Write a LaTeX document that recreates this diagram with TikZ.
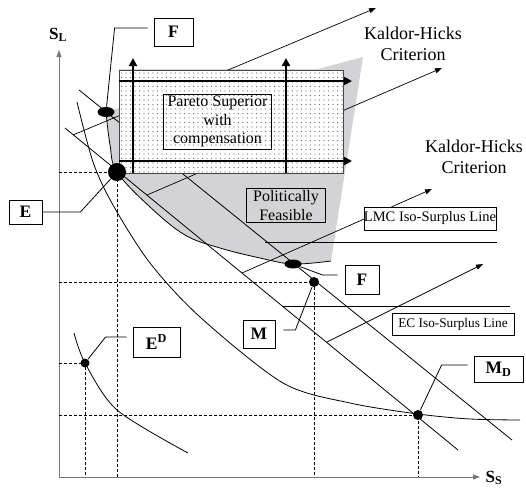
\documentclass[tikz,border=0pt]{standalone}
\usepackage{fontspec}
\setmainfont{Liberation Serif}
\usepackage{tikz}
\usetikzlibrary{positioning, shapes.geometric, arrows.meta, patterns.meta, calc}
\definecolor{feasiblegray}{RGB}{211,211,213}
\definecolor{axisgray}{RGB}{120,120,120}
\definecolor{dotgray}{RGB}{110,110,110}
\definecolor{framegray}{RGB}{70,70,70}

\begin{document}
\begin{tikzpicture}[
    x=1pt, y=-1pt,
    line width=0.8pt,
    font=\fontsize{16}{19}\selectfont,
    guide/.style={dash pattern=on 3pt off 2pt},
    axisarrow/.style={-{Triangle[length=7pt, width=5pt]}, line width=1pt, color=axisgray},
    krarrow/.style={-{Triangle[length=7pt, width=5pt]}, line width=0.7pt},
    boldarrow/.style={-{Triangle[length=8pt, width=8pt]}, line width=2.8pt},
    paretobox/.style={draw=framegray, preaction={fill=white},
        pattern={Dots[distance=4.5pt, radius=0.6pt]}, pattern color=dotgray},
    regionbox/.style={draw, align=center, inner xsep=4pt, inner ysep=2pt, font=\fontsize{16}{18.5}\selectfont},
    notebox/.style={draw, fill=white, inner sep=0pt},
    tagbox/.style={draw, fill=white, inner sep=0pt, font=\fontsize{17.5}{20}\selectfont\bfseries},
    axislabel/.style={font=\fontsize{17}{20}\selectfont\bfseries, inner sep=1pt},
    khlabel/.style={align=center, font=\fontsize{18}{21}\selectfont},
    bigdot/.style={circle, fill=black, inner sep=0pt, minimum size=#1},
    flatdot/.style={ellipse, fill=black, inner sep=0pt, minimum width=17pt, minimum height=#1}
]
\useasboundingbox (0,0) rectangle (526,487);

%% KEY POINTS %%
\coordinate (origin) at (59,477);
\coordinate (e_pt) at (117,172);
\coordinate (f_top_pt) at (106,112);
\coordinate (f_bot_pt) at (293,264);
\coordinate (m_pt) at (314,282);
\coordinate (md_pt) at (418,415);
\coordinate (ed_pt) at (85,363);

%% POLITICALLY FEASIBLE AREA %%
\fill[feasiblegray] plot[smooth, tension=0.6] coordinates {(106,112) (110,145) (117,172) (150,207) (185,235) (220,248) (260,258) (293,264) (331,261)}
    -- (363,57) -- (318,69) -- (119,69) -- (119,108) -- cycle;

%% AXES %%
\draw[axisarrow] (origin) -- (59,50) coordinate (sl_end);
\draw[axisarrow] (origin) -- (480,477) coordinate (ss_end);
\node (sl_label) [axislabel] at (58,35) {S\textsubscript{L}};
\node (ss_label) [axislabel] at (494,478) {S\textsubscript{S}};

%% DASHED GUIDES %%
\draw[guide] (origin |- e_pt) -- (e_pt) -- (e_pt |- origin);
\draw[guide] (origin |- m_pt) -- (m_pt) -- (m_pt |- origin);
\draw[guide] (origin |- ed_pt) -- (ed_pt) -- (ed_pt |- origin);
\draw[guide] (origin |- md_pt) -- (md_pt) -- (md_pt |- origin);

%% INDIFFERENCE CURVES %%
\draw plot[smooth, tension=0.6] coordinates {(106,112) (110,145) (117,172) (150,207) (185,235) (220,248) (260,258) (293,264) (331,261)};
\draw plot[smooth] coordinates {(77,102) (93,162) (113,205) (150,263) (200,317) (283,383) (350,403) (418,414) (470,419) (520,420)};
\draw plot[smooth] coordinates {(74,333) (85,363) (117,410) (188,453)};

%% ISO-SURPLUS LINES %%
\coordinate (l1_start) at (65,128);
\coordinate (l1_end) at (458,450);
\coordinate (l2_start) at (79,90);
\coordinate (l2_end) at (512,440);
\draw (l1_start) -- (l1_end);
\draw (l2_start) -- (l2_end);
\draw (265,242) coordinate (lmc_start) -- (497,242) coordinate (lmc_end);
\draw (282,306) coordinate (ec_start) -- (510,306) coordinate (ec_end);

%% KALDOR-HICKS DIRECTIONS %%
\draw[krarrow] (73,135) coordinate (kh1_start) -- (376,8) coordinate (kh1_end);
\draw[krarrow] (147,195) coordinate (kh2_start) -- (442,68) coordinate (kh2_end);
\draw[krarrow] (242,273) coordinate (kh3_start) -- (432,189) coordinate (kh3_end);
\draw[krarrow] (327,342) coordinate (kh4_start) -- (483,264) coordinate (kh4_end);

%% PARETO SUPERIOR REGION %%
\draw[paretobox] (119,70) coordinate (pareto_nw) rectangle (343,173) coordinate (pareto_se);
\draw[boldarrow] (119,81) -- (352,81);
\draw[boldarrow] (119,161) -- (352,161);
\draw[boldarrow] (133,173) -- (133,58);
\draw[boldarrow] (286,173) -- (286,58);

%% TEXT BOXES %%
\node (pareto_text) [regionbox] at (217.5,121.5) {Pareto Superior\\with\\compensation};
\node (feasible_text) [regionbox, inner xsep=7pt] at (286,205.5) {Politically\\Feasible};
\node (lmc_text) [notebox, minimum width=130pt, minimum height=23pt, font=\fontsize{14.5}{16}\selectfont] at (430,218.5) {LMC Iso-Surplus Line};
\node (ec_text) [notebox, minimum width=122pt, minimum height=22pt, font=\fontsize{13.3}{15}\selectfont] at (453,324) {EC Iso-Surplus Line};
\node (kh_top) [khlabel] at (413,44) {Kaldor-Hicks\\Criterion};
\node (kh_mid) [khlabel] at (474,157) {Kaldor-Hicks\\Criterion};

%% POINTS %%
\node (e_dot) [bigdot=18pt] at (e_pt) {};
\node (f_top_dot) [flatdot=10pt] at (f_top_pt) {};
\node (f_bot_dot) [flatdot=9pt] at (f_bot_pt) {};
\node (m_dot) [bigdot=10pt] at (m_pt) {};
\node (md_dot) [bigdot=10pt] at (md_pt) {};
\node (ed_dot) [bigdot=9pt] at (ed_pt) {};

%% TAGS %%
\node (f_top_tag) [tagbox, minimum width=39pt, minimum height=28pt] at (173.5,32) {F};
\node (e_tag) [tagbox, minimum width=33pt, minimum height=24pt] at (25.5,212) {E};
\node (f_bot_tag) [tagbox, minimum width=34pt, minimum height=29pt] at (362,279.5) {F};
\node (m_tag) [tagbox, minimum width=32pt, minimum height=28pt] at (259,334) {M};
\node (ed_tag) [tagbox, minimum width=47pt, minimum height=30pt] at (156.5,342) {E\textsuperscript{D}};
\node (md_tag) [tagbox, minimum width=49pt, minimum height=26pt] at (498.5,369) {M\textsubscript{D}};

\draw ([shift={(-6,-4)}]f_top_tag.west) -- ++(-33,0) -- (f_top_dot);
\draw (e_tag.east) -- ++(38,0) -- (e_dot);
\draw ([shift={(-7,-4.5)}]f_bot_tag.west) -- ++(-15,0) -- (f_bot_dot);
\draw ([shift={(8,-4)}]m_tag.east) -- ++(12,0) -- (m_dot);
\draw ([shift={(-6,-5)}]ed_tag.west) -- ++(-21,0) -- (ed_dot);
\draw ([shift={(-6,-4)}]md_tag.west) -- ++(-26,0) -- (md_dot);

\end{tikzpicture}
\end{document}
